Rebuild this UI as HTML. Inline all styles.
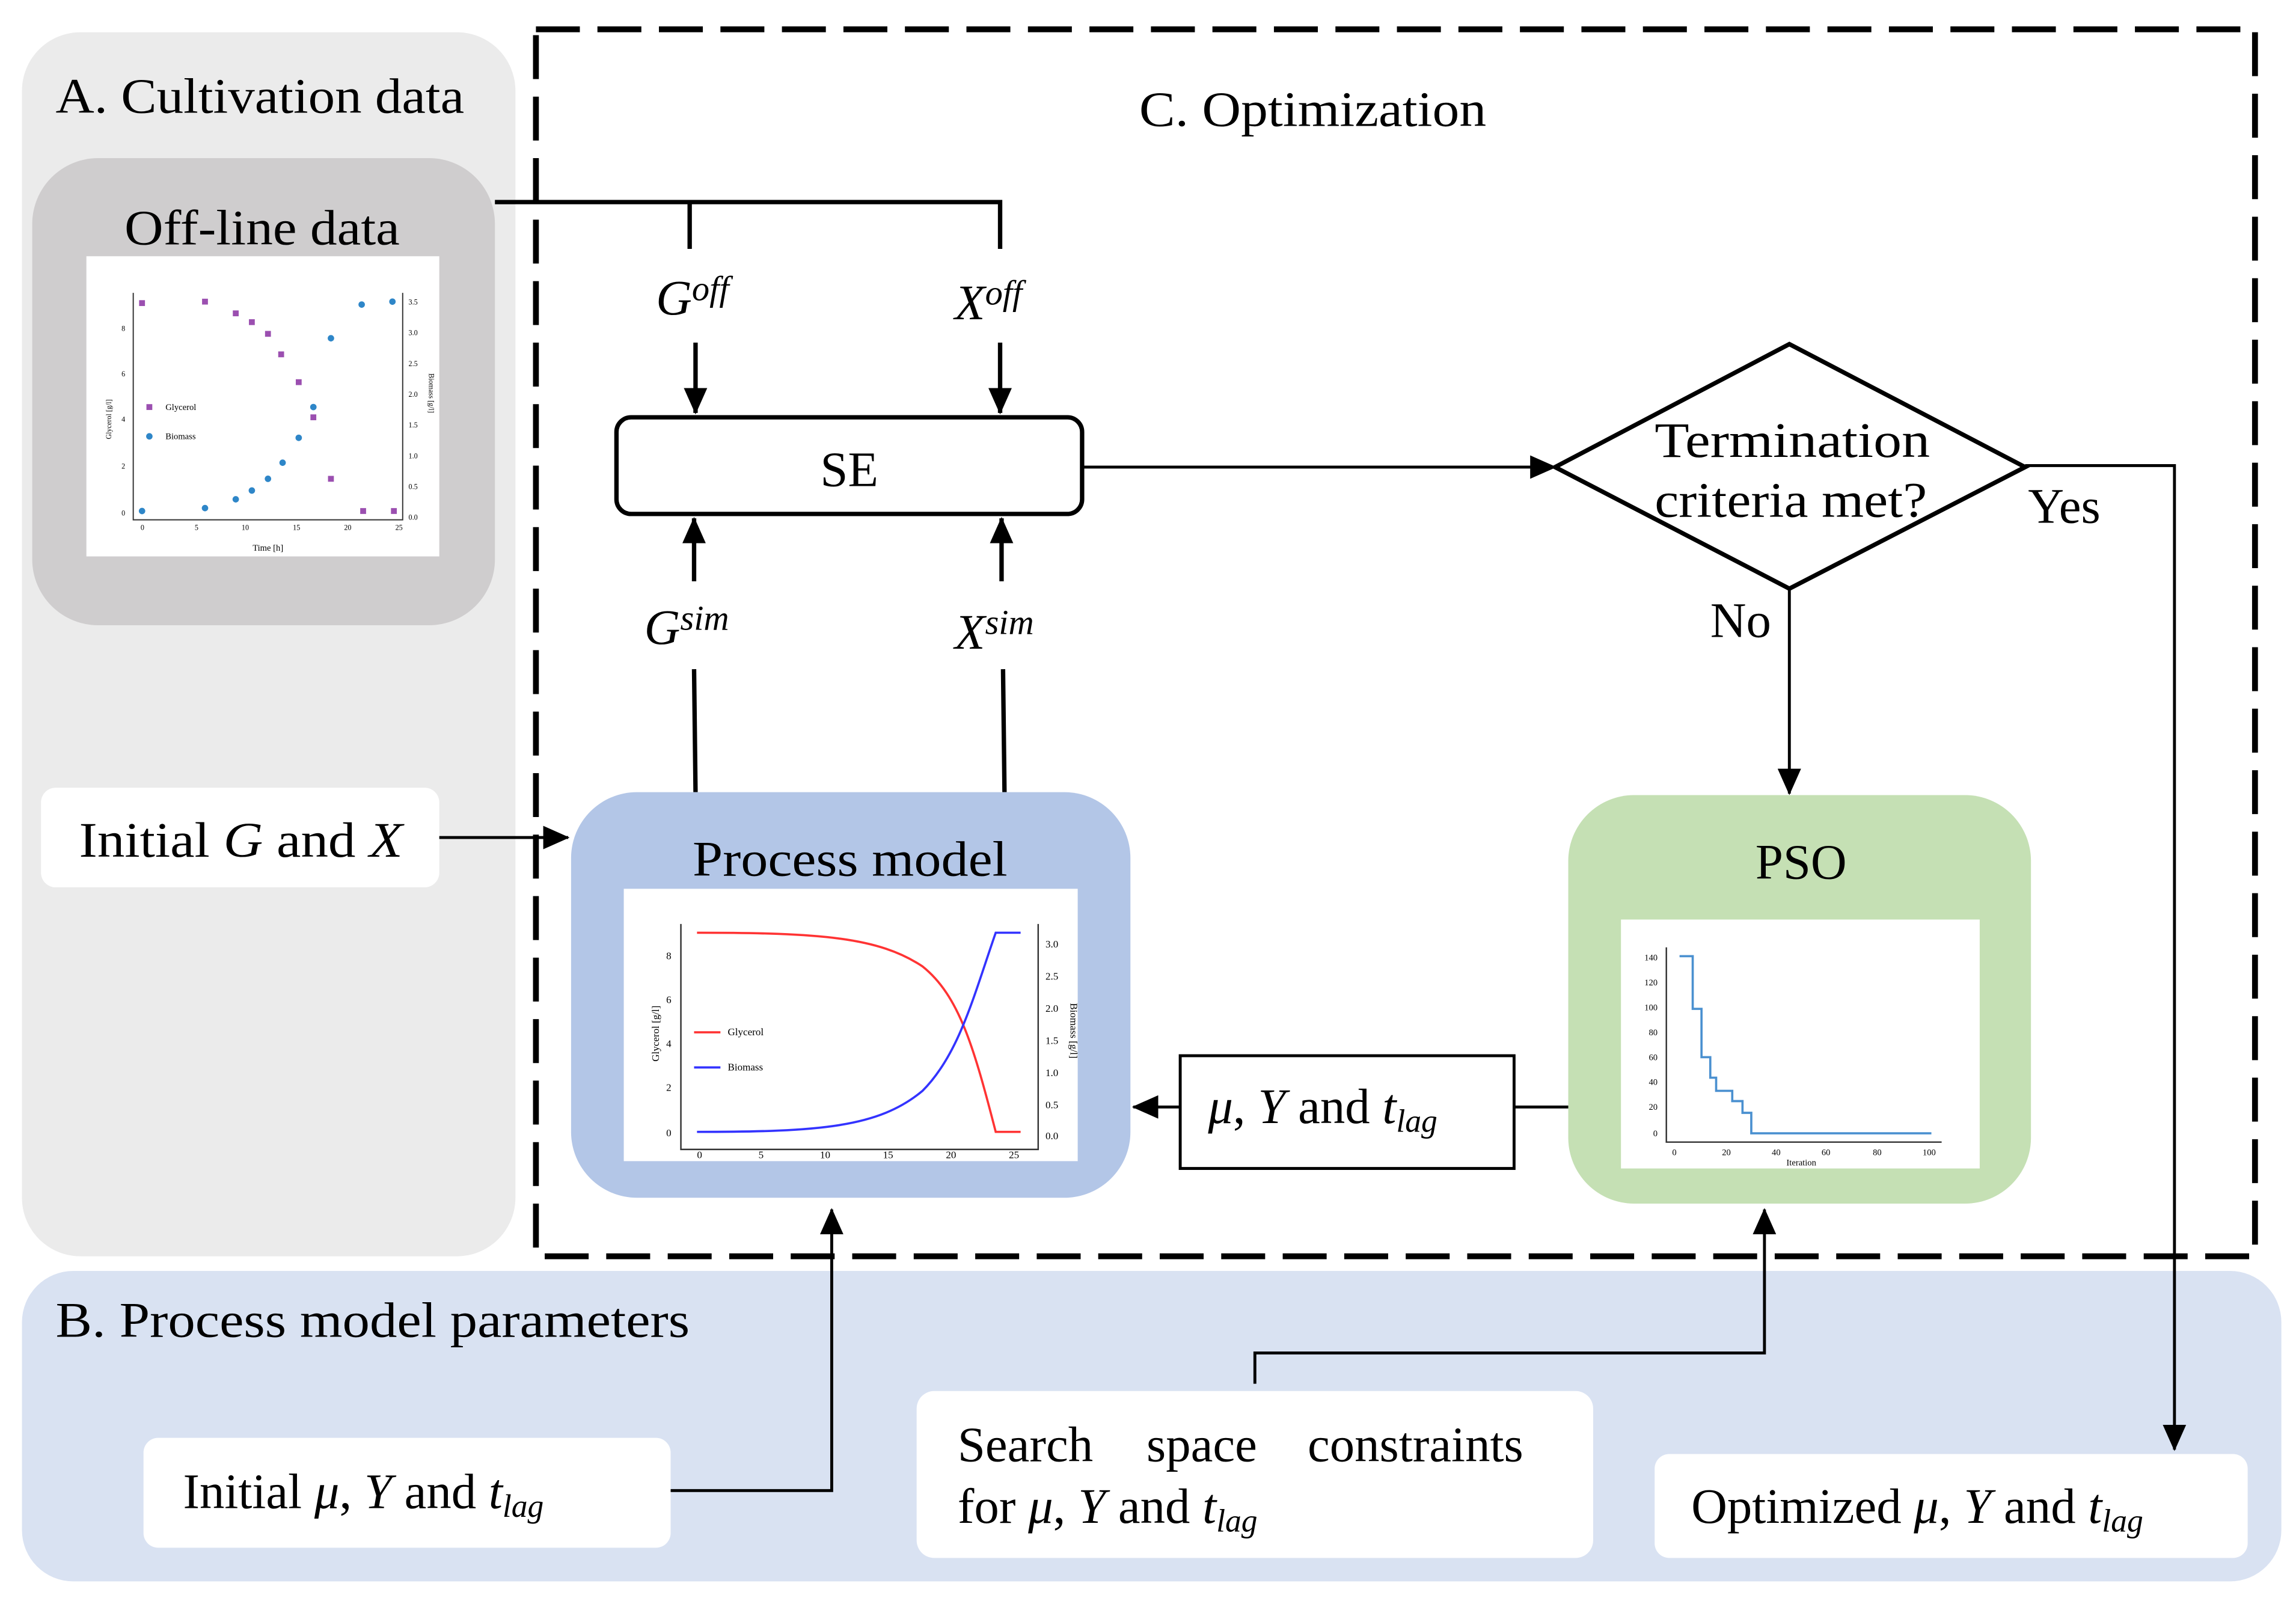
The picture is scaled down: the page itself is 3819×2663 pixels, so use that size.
<!DOCTYPE html>
<html><head><meta charset="utf-8"><style>html,body{margin:0;padding:0;background:#fff}svg{display:block}text{font-family:"Liberation Serif",serif}</style></head><body>
<svg width="3819" height="2663" viewBox="0 0 1568 1093.4" preserveAspectRatio="none" xmlns="http://www.w3.org/2000/svg">
<defs>
<marker id="ab" markerWidth="18" markerHeight="16" refX="17" refY="8" orient="auto" markerUnits="userSpaceOnUse"><path d="M0,0 L18,8 L0,16 z" fill="#000"/></marker></defs>
<rect width="1568" height="1094" fill="#fff"/>
<rect x="15" y="22" width="337" height="836" rx="40" fill="#ebebeb"/>
<text x="38" y="77" font-size="34" textLength="279" lengthAdjust="spacingAndGlyphs">A. Cultivation data</text>
<rect x="22" y="108" width="316" height="319" rx="45" fill="#cfcdce"/>
<text x="85" y="167" font-size="34" textLength="188" lengthAdjust="spacingAndGlyphs">Off-line data</text>
<rect x="59" y="175" width="241" height="205" fill="#fff"/>
<g stroke="#333" stroke-width="0.8" fill="none"><path d="M91,200 V355 H275 V200"/></g>
<g fill="#9b4fb0"><rect x="95" y="205" width="4" height="4"/><rect x="138" y="204" width="4" height="4"/><rect x="159" y="212" width="4" height="4"/><rect x="170" y="218" width="4" height="4"/><rect x="181" y="226" width="4" height="4"/><rect x="190" y="240" width="4" height="4"/><rect x="202" y="259" width="4" height="4"/><rect x="212" y="283" width="4" height="4"/><rect x="224" y="325" width="4" height="4"/><rect x="246" y="347" width="4" height="4"/><rect x="267" y="347" width="4" height="4"/><rect x="100" y="276" width="4" height="4"/></g>
<g fill="#2e86c8"><circle cx="97" cy="349" r="2.2"/><circle cx="140" cy="347" r="2.2"/><circle cx="161" cy="341" r="2.2"/><circle cx="172" cy="335" r="2.2"/><circle cx="183" cy="327" r="2.2"/><circle cx="193" cy="316" r="2.2"/><circle cx="204" cy="299" r="2.2"/><circle cx="214" cy="278" r="2.2"/><circle cx="226" cy="231" r="2.2"/><circle cx="247" cy="208" r="2.2"/><circle cx="268" cy="206" r="2.2"/><circle cx="102" cy="298" r="2.2"/></g>
<text x="113" y="280" font-size="6">Glycerol</text><text x="113" y="300" font-size="6">Biomass</text>
<g font-size="5"><text x="96" y="362">0</text><text x="133" y="362">5</text><text x="165" y="362">10</text><text x="200" y="362">15</text><text x="235" y="362">20</text><text x="270" y="362">25</text>
<text x="83" y="226">8</text><text x="83" y="257">6</text><text x="83" y="288">4</text><text x="83" y="320">2</text><text x="83" y="352">0</text>
<text x="279" y="208">3.5</text><text x="279" y="229">3.0</text><text x="279" y="250">2.5</text><text x="279" y="271">2.0</text><text x="279" y="292">1.5</text><text x="279" y="313">1.0</text><text x="279" y="334">0.5</text><text x="279" y="355">0.0</text></g>
<text x="76" y="300" font-size="5" transform="rotate(-90 76 300)">Glycerol [g/l]</text>
<text x="293" y="255" font-size="5" transform="rotate(90 293 255)">Biomass [g/l]</text>
<text x="183" y="376" font-size="6" text-anchor="middle">Time [h]</text>
<rect x="28" y="538" width="272" height="68" rx="10" fill="#fff"/>
<text x="54" y="585" font-size="34" textLength="221" lengthAdjust="spacingAndGlyphs">Initial <tspan font-style="italic">G</tspan> and <tspan font-style="italic">X</tspan></text>
<line x1="300" y1="572" x2="388" y2="572" stroke="#000" stroke-width="2" marker-end="url(#ab)"/>
<rect x="15" y="868" width="1543" height="212" rx="35" fill="#d9e2f2"/>
<text x="38" y="913" font-size="34" textLength="433" lengthAdjust="spacingAndGlyphs">B. Process model parameters</text>
<rect x="98" y="982" width="360" height="75" rx="10" fill="#fff"/>
<text x="125" y="1030" font-size="34">Initial <tspan font-style="italic">μ</tspan>, <tspan font-style="italic">Y</tspan> and <tspan font-style="italic">t</tspan><tspan font-style="italic" font-size="22" dy="6">lag</tspan></text>
<rect x="626" y="950" width="462" height="114" rx="12" fill="#fff"/>
<text x="654" y="998" font-size="34">Search<tspan x="783">space</tspan><tspan x="893">constraints</tspan></text>
<text x="654" y="1040" font-size="34">for <tspan font-style="italic">μ</tspan>, <tspan font-style="italic">Y</tspan> and <tspan font-style="italic">t</tspan><tspan font-style="italic" font-size="22" dy="6">lag</tspan></text>
<rect x="1130" y="993" width="405" height="71" rx="10" fill="#fff"/>
<text x="1155" y="1040" font-size="34">Optimized <tspan font-style="italic">μ</tspan>, <tspan font-style="italic">Y</tspan> and <tspan font-style="italic">t</tspan><tspan font-style="italic" font-size="22" dy="6">lag</tspan></text>
<rect x="366" y="20" width="1174" height="838" fill="none" stroke="#000" stroke-width="4" stroke-dasharray="30,12"/>
<text x="778" y="86" font-size="34" textLength="237" lengthAdjust="spacingAndGlyphs">C. Optimization</text>
<path d="M338,138 H683 V170 M471,138 V170" fill="none" stroke="#000" stroke-width="3"/>
<text x="448" y="215" font-size="34" font-style="italic">G<tspan font-size="24" dy="-10">off</tspan></text>
<text x="652" y="218" font-size="34" font-style="italic">X<tspan font-size="24" dy="-10">off</tspan></text>
<line x1="475" y1="234" x2="475" y2="282" stroke="#000" stroke-width="3" marker-end="url(#ab)"/>
<line x1="683" y1="234" x2="683" y2="282" stroke="#000" stroke-width="3" marker-end="url(#ab)"/>
<rect x="421" y="285" width="318" height="66" rx="10" fill="#fff" stroke="#000" stroke-width="3"/>
<text x="580" y="332" font-size="34" text-anchor="middle">SE</text>
<line x1="474" y1="397" x2="474" y2="354" stroke="#000" stroke-width="3" marker-end="url(#ab)"/>
<line x1="684" y1="397" x2="684" y2="354" stroke="#000" stroke-width="3" marker-end="url(#ab)"/>
<text x="440" y="440" font-size="34" font-style="italic">G<tspan font-size="24" dy="-10">sim</tspan></text>
<text x="652" y="443" font-size="34" font-style="italic">X<tspan font-size="24" dy="-10">sim</tspan></text>
<line x1="474" y1="457" x2="475" y2="541" stroke="#000" stroke-width="3"/>
<line x1="685" y1="457" x2="686" y2="541" stroke="#000" stroke-width="3"/>
<line x1="739" y1="319" x2="1062" y2="319" stroke="#000" stroke-width="2" marker-end="url(#ab)"/>
<polygon points="1062,319 1222,235 1383,319 1222,402" fill="#fff" stroke="#000" stroke-width="3"/>
<text x="1130" y="312" font-size="34" textLength="188" lengthAdjust="spacingAndGlyphs">Termination</text>
<text x="1130" y="353" font-size="34" textLength="186" lengthAdjust="spacingAndGlyphs">criteria met?</text>
<path d="M1383,318 H1485 V990" fill="none" stroke="#000" stroke-width="2" marker-end="url(#ab)"/>
<text x="1385" y="357" font-size="34">Yes</text>
<line x1="1222" y1="402" x2="1222" y2="542" stroke="#000" stroke-width="2" marker-end="url(#ab)"/>
<text x="1168" y="435" font-size="34">No</text>
<rect x="390" y="541" width="382" height="277" rx="45" fill="#b3c6e7"/>
<text x="473" y="598" font-size="34" textLength="215" lengthAdjust="spacingAndGlyphs">Process model</text>
<rect x="426" y="607" width="310" height="186" fill="#fff"/>
<path d="M465,631 V785 H709 V631" fill="none" stroke="#333" stroke-width="1"/>
<path d="M476,637 C560,637 600,640 630,660 C655,680 665,715 680,773 H697" fill="none" stroke="#f33" stroke-width="1.5"/>
<path d="M476,773 C560,773 600,770 630,745 C655,720 665,680 680,637 H697" fill="none" stroke="#33f" stroke-width="1.5"/>
<line x1="474" y1="705" x2="492" y2="705" stroke="#f33" stroke-width="1.5"/><text x="497" y="707" font-size="7">Glycerol</text>
<line x1="474" y1="729" x2="492" y2="729" stroke="#33f" stroke-width="1.5"/><text x="497" y="731" font-size="7">Biomass</text>
<g font-size="7"><text x="476" y="791">0</text><text x="518" y="791">5</text><text x="560" y="791">10</text><text x="603" y="791">15</text><text x="646" y="791">20</text><text x="689" y="791">25</text>
<text x="455" y="655">8</text><text x="455" y="685">6</text><text x="455" y="715">4</text><text x="455" y="745">2</text><text x="455" y="776">0</text>
<text x="714" y="647">3.0</text><text x="714" y="669">2.5</text><text x="714" y="691">2.0</text><text x="714" y="713">1.5</text><text x="714" y="735">1.0</text><text x="714" y="757">0.5</text><text x="714" y="778">0.0</text></g>
<text x="450" y="725" font-size="7" transform="rotate(-90 450 725)">Glycerol [g/l]</text>
<text x="731" y="685" font-size="7" transform="rotate(90 731 685)">Biomass [g/l]</text>
<rect x="1071" y="543" width="316" height="279" rx="45" fill="#c5e0b4"/>
<text x="1230" y="600" font-size="34" text-anchor="middle">PSO</text>
<rect x="1107" y="628" width="245" height="170" fill="#fff"/>
<path d="M1138,647 V780 H1326" fill="none" stroke="#333" stroke-width="1"/>
<path d="M1147,653 H1156 V689 H1162 V722 H1168 V736 H1172 V745 H1183 V752 H1190 V760 H1196 V774 H1319" fill="none" stroke="#4a90d0" stroke-width="1.5"/>
<g font-size="6"><text x="1123" y="656">140</text><text x="1123" y="673">120</text><text x="1123" y="690">100</text><text x="1126" y="707">80</text><text x="1126" y="724">60</text><text x="1126" y="741">40</text><text x="1126" y="758">20</text><text x="1129" y="776">0</text>
<text x="1142" y="789">0</text><text x="1176" y="789">20</text><text x="1210" y="789">40</text><text x="1244" y="789">60</text><text x="1279" y="789">80</text><text x="1313" y="789">100</text><text x="1220" y="796">Iteration</text></g>
<rect x="806" y="721" width="228" height="77" fill="#fff" stroke="#000" stroke-width="2"/>
<text x="825" y="767" font-size="34"><tspan font-style="italic">μ</tspan>, <tspan font-style="italic">Y</tspan> and <tspan font-style="italic">t</tspan><tspan font-style="italic" font-size="22" dy="6">lag</tspan></text>
<line x1="1071" y1="756" x2="1034" y2="756" stroke="#000" stroke-width="2"/>
<line x1="806" y1="756" x2="774" y2="756" stroke="#000" stroke-width="2" marker-end="url(#ab)"/>
<path d="M458,1018 H568 V826" fill="none" stroke="#000" stroke-width="2" marker-end="url(#ab)"/>
<path d="M857,945 V924 H1205 V826" fill="none" stroke="#000" stroke-width="2" marker-end="url(#ab)"/>
</svg>
</body></html>
